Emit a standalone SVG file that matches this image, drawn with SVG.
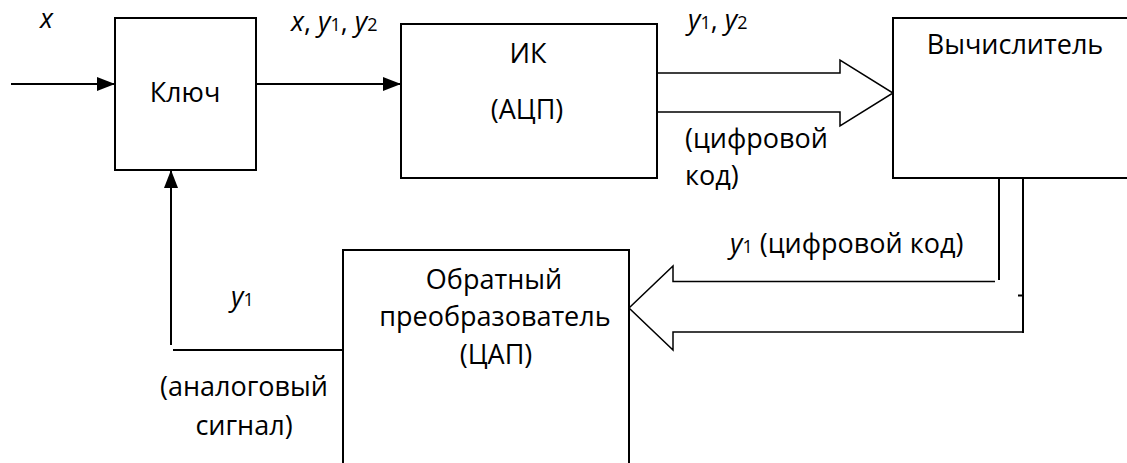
<svg xmlns="http://www.w3.org/2000/svg" width="1127" height="463" viewBox="0 0 1127 463">
<style>
text{font-family:"Open Sans","Noto Sans","DejaVu Sans",sans-serif;font-size:27px;fill:#000}
.i{font-style:italic}
.s{font-size:18px;font-style:normal}
.box{fill:#fff;stroke:#000;stroke-width:2}
.ln{fill:none;stroke:#000;stroke-width:2}
.hl{fill:none;stroke:#000;stroke-width:1.5;stroke-linejoin:miter}
</style>
<defs>
<marker id="ah" viewBox="0 0 18 14" refX="18" refY="7" markerWidth="18" markerHeight="14" markerUnits="userSpaceOnUse" orient="auto">
<path d="M0,0 L18,7 L0,14 Z" fill="#000"/>
</marker>
</defs>
<g id="connectors">
<line class="ln" x1="11" y1="84" x2="115" y2="84" marker-end="url(#ah)"/>
<line class="ln" x1="256" y1="84" x2="401" y2="84" marker-end="url(#ah)"/>
<line class="ln" x1="171" y1="345" x2="171" y2="170" marker-end="url(#ah)"/>
<line class="ln" x1="173" y1="350" x2="343" y2="350"/>
<path class="hl" d="M657,73 H840 V60 L893,93 L840,126 V112 H657"/>
<line class="ln" x1="999" y1="178" x2="999" y2="280"/>
<line class="ln" x1="1023" y1="178" x2="1023" y2="333"/>
<line class="ln" x1="1018" y1="295.5" x2="1023" y2="295.5" stroke-width="1.5"/>
<path class="hl" d="M995,281.5 H673 V266 L629,308 L673,350 V332 H1023"/>
</g>
<g id="n-key">
<rect class="box" x="115" y="18" width="141" height="152"/>
<text x="185" y="102" text-anchor="middle">Ключ</text>
</g>
<g id="n-ik">
<rect class="box" x="401" y="24" width="256" height="154"/>
<text x="528" y="63" text-anchor="middle">ИК</text>
<text x="527" y="119" text-anchor="middle">(АЦП)</text>
</g>
<g id="n-calc">
<rect class="box" x="893" y="18" width="250" height="160"/>
<text x="1015" y="54" text-anchor="middle">Вычислитель</text>
</g>
<g id="n-dac">
<rect class="box" x="343" y="250" width="286" height="240"/>
<text x="494" y="289" text-anchor="middle">Обратный</text>
<text x="495" y="326" text-anchor="middle">преобразователь</text>
<text x="496" y="364" text-anchor="middle">(ЦАП)</text>
</g>
<g id="labels">
<text x="40" y="28" class="i">x</text>
<text x="291" y="31"><tspan class="i">x</tspan>, <tspan class="i">y</tspan><tspan class="s">1</tspan>, <tspan class="i">y</tspan><tspan class="s">2</tspan></text>
<text x="688" y="29"><tspan class="i">y</tspan><tspan class="s">1</tspan>, <tspan class="i">y</tspan><tspan class="s">2</tspan></text>
<text x="685" y="148">(цифровой</text>
<text x="685" y="185">код)</text>
<text x="730" y="253"><tspan class="i">y</tspan><tspan class="s">1</tspan> (цифровой код)</text>
<text x="231" y="306"><tspan class="i">y</tspan><tspan class="s">1</tspan></text>
<text x="244" y="396" text-anchor="middle">(аналоговый</text>
<text x="244" y="435" text-anchor="middle">сигнал)</text>
</g>
</svg>
